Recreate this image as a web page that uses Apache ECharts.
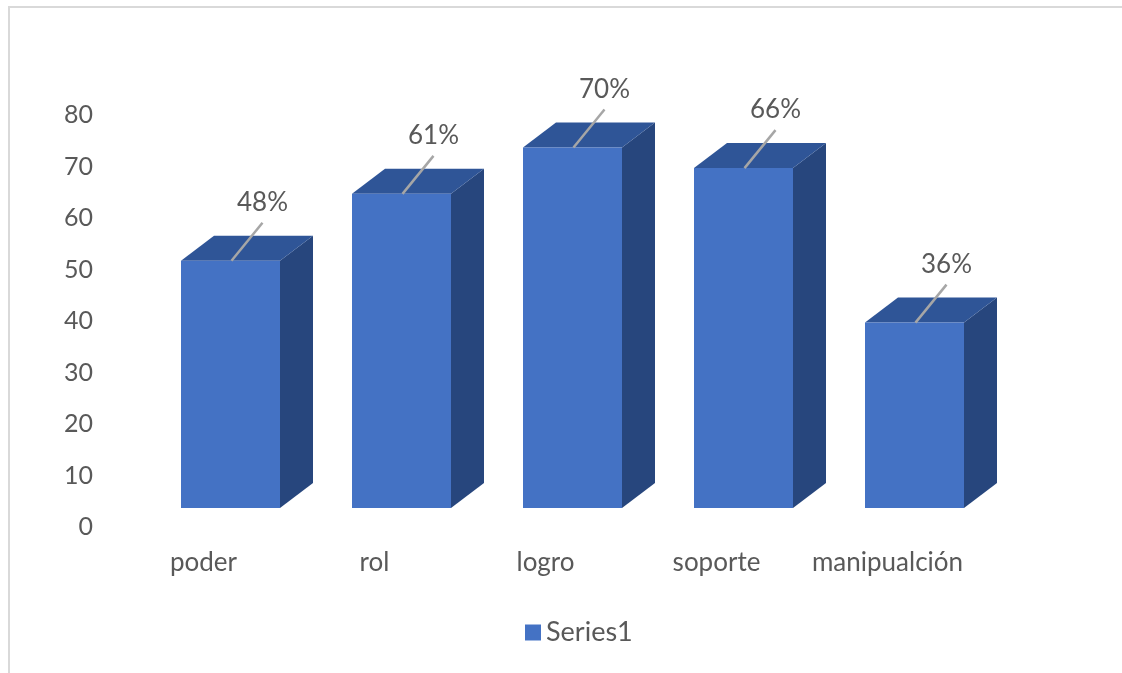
<!DOCTYPE html>
<html>
<head>
<meta charset="utf-8">
<script src="https://cdn.jsdelivr.net/npm/echarts@6/dist/echarts.min.js"></script>
<style>
html,body{margin:0;padding:0;background:#fff;}
#chart{width:1122px;height:673px;}
</style>
</head>
<body>
<div id="chart"></div>
<script>
const categories = ['poder', 'rol', 'logro', 'soporte', 'manipualción'];
const values = [48, 61, 70, 66, 36];
const labelTexts = ['48%', '61%', '70%', '66%', '36%'];
const yTicks = [0, 10, 20, 30, 40, 50, 60, 70, 80];

const FONT = 'Lato';
const FRONT = '#4472C4';
const TOP = '#2F5597';
const SIDE = '#27467D';
const TEXT = '#595959';

const chart = echarts.init(document.getElementById('chart'));

function renderItem(params, api) {
  const i = api.value(0);
  const v = api.value(1);
  const base = api.coord([i, 0]);
  const top = api.coord([i, v]);
  const shiftY = -19;
  const w = 99, dx = 33, dy = 25;
  const x0 = base[0] - w / 2, x1 = base[0] + w / 2;
  const yb = base[1] + shiftY, yt = top[1] + shiftY;
  return {
    type: 'group',
    children: [
      { type: 'polygon', shape: { points: [[x1, yt], [x1 + dx, yt - dy], [x1 + dx, yb - dy], [x1, yb]] }, style: { fill: SIDE } },
      { type: 'polygon', shape: { points: [[x0, yt], [x0 + dx, yt - dy], [x1 + dx, yt - dy], [x1, yt]] }, style: { fill: TOP } },
      { type: 'rect', shape: { x: x0, y: yt, width: w, height: yb - yt }, style: { fill: FRONT } },
      { type: 'line', shape: { x1: base[0] + 1, y1: yt, x2: base[0] + 32, y2: yt - 38 }, style: { stroke: '#A6A6A6', lineWidth: 2.5 } },
      { type: 'text', x: base[0] + 32, y: yt - 58, style: { text: labelTexts[i], fill: TEXT, font: '26px ' + FONT, align: 'center', verticalAlign: 'middle' } }
    ]
  };
}

chart.setOption({
  animation: false,
  backgroundColor: '#fff',
  textStyle: { fontFamily: FONT },
  graphic: [{
    type: 'rect', z: 100,
    shape: { x: 9, y: 7, width: 1300, height: 900 },
    style: { fill: 'none', stroke: '#D9D9D9', lineWidth: 2 }
  }],
  grid: { left: 145, right: 122, top: 115, bottom: 146 },
  legend: {
    data: ['Series1'],
    bottom: 22,
    left: 520,
    icon: 'rect',
    itemWidth: 16, itemHeight: 16,
    itemGap: 6,
    textStyle: { color: TEXT, fontSize: 27, fontFamily: FONT }
  },
  xAxis: {
    type: 'category',
    data: categories,
    axisLine: { show: false },
    axisTick: { show: false },
    axisLabel: { color: TEXT, fontSize: 26, fontFamily: FONT, margin: 23, interval: 0, padding: [0, 54, 0, 0] }
  },
  yAxis: {
    type: 'value',
    min: 0, max: 80, interval: 10,
    axisLine: { show: false },
    axisTick: { show: false },
    splitLine: { show: false },
    axisLabel: { color: TEXT, fontSize: 25, fontFamily: FONT, margin: 52 }
  },
  series: [{
    name: 'Series1',
    type: 'custom',
    renderItem: renderItem,
    itemStyle: { color: FRONT },
    encode: { x: 0, y: 1 },
    data: values.map((v, i) => [i, v])
  }]
});
</script>
</body>
</html>
